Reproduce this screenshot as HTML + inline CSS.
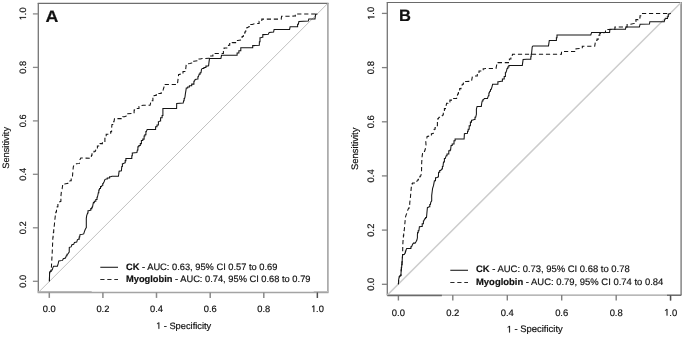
<!DOCTYPE html>
<html><head><meta charset="utf-8"><style>
html,body{margin:0;padding:0;background:#fff;}
svg{display:block;filter:grayscale(1);text-rendering:geometricPrecision;}
text{fill:#111;stroke:#111;stroke-width:0.18px;} .g1{fill:#111;stroke:#111;stroke-width:40;}
</style></head><body>
<svg width="685" height="337" viewBox="0 0 685 337" style="font-family:'Liberation Sans',sans-serif">
<rect width="685" height="337" fill="#fff"/>
<line x1="37.699999999999996" y1="3.3" x2="328.5" y2="3.3" stroke="#6e6e6e" stroke-width="1.2"/>
<line x1="38.3" y1="3.3" x2="38.3" y2="292.5" stroke="#747474" stroke-width="1.3"/>
<line x1="37.699999999999996" y1="292.5" x2="328.5" y2="292.5" stroke="#a4a4a4" stroke-width="1.4"/>
<line x1="327.9" y1="3.3" x2="327.9" y2="292.5" stroke="#a4a4a4" stroke-width="1.6"/>
<line x1="38.3" y1="292.5" x2="327.9" y2="3.3" stroke="#b0b0b0" stroke-width="0.8"/>
<line x1="32.9" y1="281.3" x2="38.3" y2="281.3" stroke="#8a8a8a" stroke-width="1.3"/>
<line x1="49.3" y1="292.5" x2="49.3" y2="297.9" stroke="#8a8a8a" stroke-width="1.5"/>
<text transform="translate(26.0,281.3) rotate(-90)" text-anchor="middle" font-size="9.3">0.0</text>
<text x="49.3" y="312.0" text-anchor="middle" font-size="9.3">0.0</text>
<line x1="32.9" y1="227.8" x2="38.3" y2="227.8" stroke="#8a8a8a" stroke-width="1.3"/>
<line x1="102.9" y1="292.5" x2="102.9" y2="297.9" stroke="#8a8a8a" stroke-width="1.5"/>
<text transform="translate(26.0,227.8) rotate(-90)" text-anchor="middle" font-size="9.3">0.2</text>
<text x="102.9" y="312.0" text-anchor="middle" font-size="9.3">0.2</text>
<line x1="32.9" y1="174.3" x2="38.3" y2="174.3" stroke="#8a8a8a" stroke-width="1.3"/>
<line x1="156.5" y1="292.5" x2="156.5" y2="297.9" stroke="#8a8a8a" stroke-width="1.5"/>
<text transform="translate(26.0,174.3) rotate(-90)" text-anchor="middle" font-size="9.3">0.4</text>
<text x="156.5" y="312.0" text-anchor="middle" font-size="9.3">0.4</text>
<line x1="32.9" y1="120.9" x2="38.3" y2="120.9" stroke="#8a8a8a" stroke-width="1.3"/>
<line x1="210.2" y1="292.5" x2="210.2" y2="297.9" stroke="#8a8a8a" stroke-width="1.5"/>
<text transform="translate(26.0,120.9) rotate(-90)" text-anchor="middle" font-size="9.3">0.6</text>
<text x="210.2" y="312.0" text-anchor="middle" font-size="9.3">0.6</text>
<line x1="32.9" y1="67.4" x2="38.3" y2="67.4" stroke="#8a8a8a" stroke-width="1.3"/>
<line x1="263.8" y1="292.5" x2="263.8" y2="297.9" stroke="#8a8a8a" stroke-width="1.5"/>
<text transform="translate(26.0,67.4) rotate(-90)" text-anchor="middle" font-size="9.3">0.8</text>
<text x="263.8" y="312.0" text-anchor="middle" font-size="9.3">0.8</text>
<line x1="32.9" y1="13.9" x2="38.3" y2="13.9" stroke="#8a8a8a" stroke-width="1.3"/>
<line x1="317.4" y1="292.5" x2="317.4" y2="297.9" stroke="#8a8a8a" stroke-width="1.5"/>
<g transform="translate(26.0,13.9) rotate(-90)"><path class="g1" d="M555 0V1237L237 1010V1180L570 1409H736V0Z" transform="translate(-6.46,0.00) scale(0.004541,-0.004541)"/><text x="-1.29" y="0.00" font-size="9.3">.0</text></g>
<path class="g1" d="M555 0V1237L237 1010V1180L570 1409H736V0Z" transform="translate(310.94,312.00) scale(0.004541,-0.004541)"/><text x="316.11" y="312.00" font-size="9.3">.0</text>
<text transform="translate(9.4,147.9) rotate(-90)" text-anchor="middle" font-size="9.3">Sensitivity</text>
<path class="g1" d="M555 0V1237L237 1010V1180L570 1409H736V0Z" transform="translate(155.95,328.80) scale(0.004541,-0.004541)"/><text x="163.71" y="328.8" font-size="9.3">- Specificity</text>
<text transform="translate(45.6,21.7) scale(1.08,1)" font-size="16.5" font-weight="bold">A</text>
<polyline points="49.4,281.3 49.6,272.8 50.2,271.4 51.2,271.4 51.2,269.9 52.2,269.9 52.9,267.6 53.6,266.2 57.4,266.2 58.1,263.9 58.8,261.0 62.5,260.4 63.3,258.7 65.5,258.0 66.3,255.8 67.0,255.8 67.0,254.3 67.7,254.3 68.5,253.0 69.2,252.0 69.3,247.3 71.1,246.9 71.9,244.7 73.7,244.3 74.5,242.4 76.7,242.1 77.4,239.8 78.6,239.1 79.2,239.1 79.2,236.9 79.7,236.9 80.0,234.6 82.3,234.3 83.7,233.9 84.5,231.3 85.2,229.5 86.0,228.0 86.3,227.7 86.3,218.4 86.7,215.7 87.6,213.0 88.0,213.0 88.0,210.8 88.5,210.8 90.3,210.3 90.8,210.3 90.8,208.6 91.2,208.6 91.8,208.6 91.8,207.2 92.5,207.2 93.0,204.4 93.4,202.6 94.3,202.6 94.3,201.3 95.2,201.3 95.8,201.3 95.8,199.5 96.5,199.5 97.0,199.5 97.0,197.3 97.4,197.3 97.9,195.0 98.3,192.8 98.8,192.8 98.8,190.1 99.2,190.1 99.6,188.4 100.5,188.4 100.5,186.6 101.4,186.6 102.3,185.2 102.8,185.2 102.8,183.5 103.2,183.5 104.1,181.7 104.9,179.6 106.2,178.9 107.3,178.9 107.3,178.0 108.4,178.0 109.6,178.0 109.6,176.7 110.7,176.7 112.0,176.3 118.4,176.2 118.7,174.4 119.1,171.3 121.4,170.8 121.8,166.4 122.4,166.4 122.4,163.7 123.1,163.7 124.9,162.8 125.2,162.8 125.2,160.6 125.9,160.6 125.9,158.4 126.3,158.4 131.6,158.4 131.8,158.4 131.8,155.7 132.3,155.7 132.3,153.0 132.5,153.0 136.9,152.6 137.4,150.0 137.9,150.0 137.9,146.7 138.3,146.7 138.9,146.7 138.9,145.4 139.6,145.4 140.3,145.4 140.3,143.6 141.0,143.6 141.4,143.6 141.4,140.5 141.9,140.5 142.8,140.5 142.8,139.1 143.6,139.1 144.1,139.1 144.1,136.0 144.5,136.0 144.9,136.0 144.9,134.7 145.4,134.7 145.9,134.7 145.9,131.6 146.3,131.6 147.2,129.4 155.2,129.4 155.6,129.4 155.6,126.7 156.1,126.7 157.0,126.7 157.0,124.9 157.9,124.9 158.4,124.9 158.4,121.8 158.8,121.8 160.0,120.9 160.6,120.9 160.6,117.8 161.2,117.8 162.1,117.8 162.1,115.5 162.9,115.5 162.9,108.5 176.6,108.5 176.7,103.5 183.2,103.0 183.6,100.8 184.1,100.8 184.1,98.6 184.5,98.6 185.0,96.8 185.4,93.7 185.9,90.6 186.3,87.9 187.7,87.9 187.7,87.0 189.0,87.0 189.4,87.0 189.4,85.7 189.9,85.7 191.7,85.7 191.7,84.1 193.5,84.1 193.9,84.1 193.9,81.3 194.4,81.3 195.2,79.5 197.5,79.0 197.9,79.0 197.9,76.8 198.4,76.8 199.2,74.1 200.1,74.1 200.1,72.8 201.0,72.8 201.5,69.2 202.4,68.4 203.9,68.4 203.9,67.5 205.5,67.5 205.9,67.5 205.9,66.1 206.4,66.1 208.6,65.7 209.0,62.1 209.5,58.6 220.9,58.5 221.5,55.3 236.4,55.3 237.1,55.3 237.1,53.0 237.8,53.0 238.9,53.0 238.9,50.8 240.1,50.8 240.8,50.8 240.8,47.8 241.5,47.8 251.9,47.8 252.7,47.8 252.7,45.6 253.4,45.6 259.3,45.3 259.4,41.7 260.0,41.7 260.0,37.7 260.7,37.7 262.1,37.3 262.8,37.3 262.8,34.6 263.4,34.6 268.3,34.3 269.2,32.4 273.6,32.0 274.1,29.4 289.6,29.4 290.1,26.8 296.9,26.8 297.6,26.8 297.6,24.2 298.4,24.2 298.9,21.4 308.3,21.1 308.8,19.0 315.0,19.0 315.6,14.3 317.4,13.9" fill="none" stroke="#141414" stroke-width="1.05"/>
<polyline points="49.4,281.3 49.6,272.8 50.5,271.0 51.4,267.5 51.7,261.7 52.2,252.8 52.6,243.9 52.9,237.2 53.1,237.2 53.1,234.7 53.4,234.7 53.4,232.2 53.7,232.2 53.7,229.7 53.9,229.7 54.6,222.3 55.4,214.8 55.8,214.8 55.8,211.9 56.5,211.9 56.5,208.9 56.9,208.9 57.2,208.9 57.2,206.7 57.9,206.7 57.9,204.4 58.2,204.4 58.7,202.2 60.9,201.3 60.9,196.4 61.4,191.5 62.2,188.4 62.7,184.8 63.6,184.8 63.6,183.9 64.5,183.9 67.1,183.5 67.8,183.5 67.8,181.7 68.5,181.7 70.3,180.8 71.2,180.8 71.2,179.0 72.0,179.0 72.4,177.6 72.8,172.3 73.3,166.9 74.1,164.7 76.4,163.8 79.5,163.4 79.9,159.8 80.8,158.0 91.1,158.3 91.5,155.3 92.0,155.3 92.0,152.7 92.4,152.7 94.0,152.7 94.0,151.3 95.5,151.3 95.9,149.0 97.4,149.0 97.4,146.0 98.9,146.0 100.1,146.0 100.1,143.6 101.3,143.6 102.4,143.6 102.4,141.4 103.6,141.4 104.9,141.4 104.9,138.3 106.2,138.3 106.2,134.2 109.8,134.2 110.7,134.2 110.7,131.6 111.6,131.6 111.6,128.0 112.0,124.5 113.0,124.5 113.0,121.7 114.0,121.7 114.5,118.6 121.2,118.6 122.8,118.6 122.8,116.8 124.3,116.8 126.5,115.9 127.0,115.9 127.0,113.7 127.4,113.7 133.6,113.3 134.1,113.3 134.1,110.1 134.5,110.1 135.0,108.4 138.1,108.4 139.0,108.4 139.0,106.6 139.9,106.6 140.8,105.7 143.4,105.2 150.1,105.2 150.7,102.6 151.6,102.6 151.6,100.8 152.5,100.8 152.9,100.8 152.9,97.3 153.4,97.3 154.1,97.3 154.1,95.5 154.7,95.5 156.2,95.5 156.2,94.6 157.8,94.6 158.9,94.6 158.9,93.5 161.2,93.5 161.2,92.4 162.3,92.4 163.2,89.7 164.0,87.0 165.2,87.0 165.2,84.4 166.3,84.4 177.4,84.4 177.8,81.2 178.3,77.2 178.6,74.5 180.1,74.5 180.1,73.0 183.0,73.0 183.0,71.5 184.5,71.5 185.0,71.5 185.0,70.5 185.5,70.5 185.9,67.5 186.3,63.9 189.9,63.5 191.7,63.0 192.8,63.0 192.8,61.2 193.9,61.2 197.9,60.8 199.0,60.8 199.0,59.0 200.1,59.0 202.4,58.6 208.9,58.2 210.0,58.2 210.0,56.0 211.1,56.0 212.9,56.0 212.9,53.5 214.8,53.5 223.0,53.5 223.4,53.5 223.4,50.8 224.1,50.8 224.1,48.0 224.5,48.0 228.1,48.0 228.5,45.3 229.7,45.3 229.7,43.6 230.8,43.6 232.2,43.6 232.2,42.6 233.6,42.6 235.6,42.6 235.6,40.4 237.6,40.4 241.6,39.9 242.1,39.9 242.1,36.4 242.5,36.4 243.3,36.4 243.3,34.1 244.8,34.1 244.8,31.9 245.6,31.9 246.0,30.6 246.9,30.6 246.9,27.5 247.8,27.5 249.1,26.6 250.7,26.6 250.7,24.4 252.3,24.4 253.6,23.9 257.6,23.5 259.1,23.5 259.1,21.2 260.7,21.2 261.8,21.2 261.8,19.1 262.9,19.1 281.2,19.1 281.6,16.3 294.8,16.1 295.3,16.1 295.3,13.9 295.8,13.9 317.4,13.9" fill="none" stroke="#141414" stroke-width="1.05" stroke-dasharray="4.2 2.8"/>
<line x1="100.3" y1="267.3" x2="118" y2="267.3" stroke="#2a2a2a" stroke-width="1.15"/>
<line x1="100.3" y1="279.5" x2="118" y2="279.5" stroke="#2a2a2a" stroke-width="1.15" stroke-dasharray="4.2 2.8"/>
<text x="126.0" y="269.8" font-size="9.3" xml:space="preserve"><tspan font-weight="bold">CK</tspan> - AUC: 0.63, 95% CI 0.57 to 0.69</text>
<text x="126.0" y="281.8" font-size="9.3" xml:space="preserve"><tspan font-weight="bold">Myoglobin</tspan> - AUC: 0.74, 95% CI 0.68 to 0.79</text><line x1="38.3" y1="291.5" x2="91.7" y2="291.5" stroke="#b8b8b8" stroke-width="1"/><line x1="313.7" y1="291.5" x2="327.9" y2="291.5" stroke="#c0c0c0" stroke-width="1"/><line x1="317.4" y1="292.5" x2="317.4" y2="297.9" stroke="#505050" stroke-width="1.2"/>
<line x1="386.7" y1="2.5" x2="681.7" y2="2.5" stroke="#6a6a6a" stroke-width="1.2"/>
<line x1="387.3" y1="2.5" x2="387.3" y2="295.1" stroke="#747474" stroke-width="1.3"/>
<line x1="386.7" y1="295.1" x2="681.7" y2="295.1" stroke="#a0a0a0" stroke-width="1.3"/>
<line x1="681.1" y1="2.5" x2="681.1" y2="295.1" stroke="#7c7c7c" stroke-width="1.4"/>
<line x1="387.3" y1="295.1" x2="681.1" y2="2.5" stroke="#cdcdcd" stroke-width="1.5"/>
<line x1="381.9" y1="284.3" x2="387.3" y2="284.3" stroke="#808080" stroke-width="1.3"/>
<line x1="398.4" y1="295.1" x2="398.4" y2="300.5" stroke="#808080" stroke-width="1.4"/>
<text transform="translate(374.4,284.3) rotate(-90)" text-anchor="middle" font-size="9.45">0.0</text>
<text x="398.4" y="315.6" text-anchor="middle" font-size="9.45">0.0</text>
<line x1="381.9" y1="230.1" x2="387.3" y2="230.1" stroke="#808080" stroke-width="1.3"/>
<line x1="452.8" y1="295.1" x2="452.8" y2="300.5" stroke="#808080" stroke-width="1.4"/>
<text transform="translate(374.4,230.1) rotate(-90)" text-anchor="middle" font-size="9.45">0.2</text>
<text x="452.8" y="315.6" text-anchor="middle" font-size="9.45">0.2</text>
<line x1="381.9" y1="175.9" x2="387.3" y2="175.9" stroke="#808080" stroke-width="1.3"/>
<line x1="507.3" y1="295.1" x2="507.3" y2="300.5" stroke="#808080" stroke-width="1.4"/>
<text transform="translate(374.4,175.9) rotate(-90)" text-anchor="middle" font-size="9.45">0.4</text>
<text x="507.3" y="315.6" text-anchor="middle" font-size="9.45">0.4</text>
<line x1="381.9" y1="121.8" x2="387.3" y2="121.8" stroke="#808080" stroke-width="1.3"/>
<line x1="561.7" y1="295.1" x2="561.7" y2="300.5" stroke="#808080" stroke-width="1.4"/>
<text transform="translate(374.4,121.8) rotate(-90)" text-anchor="middle" font-size="9.45">0.6</text>
<text x="561.7" y="315.6" text-anchor="middle" font-size="9.45">0.6</text>
<line x1="381.9" y1="67.6" x2="387.3" y2="67.6" stroke="#808080" stroke-width="1.3"/>
<line x1="616.2" y1="295.1" x2="616.2" y2="300.5" stroke="#808080" stroke-width="1.4"/>
<text transform="translate(374.4,67.6) rotate(-90)" text-anchor="middle" font-size="9.45">0.8</text>
<text x="616.2" y="315.6" text-anchor="middle" font-size="9.45">0.8</text>
<line x1="381.9" y1="13.4" x2="387.3" y2="13.4" stroke="#808080" stroke-width="1.3"/>
<line x1="670.6" y1="295.1" x2="670.6" y2="300.5" stroke="#808080" stroke-width="1.4"/>
<g transform="translate(374.4,13.4) rotate(-90)"><path class="g1" d="M555 0V1237L237 1010V1180L570 1409H736V0Z" transform="translate(-6.57,0.00) scale(0.004614,-0.004614)"/><text x="-1.31" y="0.00" font-size="9.45">.0</text></g>
<path class="g1" d="M555 0V1237L237 1010V1180L570 1409H736V0Z" transform="translate(664.03,315.60) scale(0.004614,-0.004614)"/><text x="669.29" y="315.60" font-size="9.45">.0</text>
<text transform="translate(357.8,148.8) rotate(-90)" text-anchor="middle" font-size="9.45">Sensitivity</text>
<path class="g1" d="M555 0V1237L237 1010V1180L570 1409H736V0Z" transform="translate(506.60,332.40) scale(0.004614,-0.004614)"/><text x="514.48" y="332.4" font-size="9.45">- Specificity</text>
<text transform="translate(399.0,20.9) scale(1.0,1)" font-size="16.5" font-weight="bold">B</text>
<polyline points="398.4,284.3 398.7,279.3 399.4,276.3 400.9,275.6 401.2,269.7 401.4,269.7 401.4,267.2 401.7,267.2 401.7,264.8 402.0,264.8 402.0,262.3 402.1,262.3 402.4,256.9 402.7,254.7 404.5,254.3 404.9,252.9 405.4,252.9 405.4,251.1 405.8,251.1 406.2,249.4 406.7,248.5 410.2,248.5 410.9,248.5 410.9,246.7 411.6,246.7 412.5,244.5 413.4,243.1 415.1,243.1 416.0,241.8 416.9,240.0 417.4,237.8 417.4,234.7 417.6,232.6 418.2,232.6 418.2,230.8 418.9,230.8 419.4,226.8 421.6,226.4 422.2,226.4 422.2,223.7 422.9,223.7 423.4,223.7 423.4,221.0 423.8,221.0 424.7,218.8 425.6,218.8 425.6,217.5 426.5,217.5 426.9,213.0 427.4,207.7 429.2,206.8 429.8,206.8 429.8,204.4 430.4,204.4 430.8,202.2 431.7,200.8 431.7,195.5 432.2,191.5 432.6,188.4 433.5,185.7 434.4,180.8 435.5,180.8 435.5,177.7 436.6,177.7 438.4,176.8 438.6,172.2 439.7,172.2 439.7,170.4 440.8,170.4 441.7,169.0 442.4,169.0 442.4,166.4 443.0,166.4 443.5,161.9 444.4,161.9 444.4,158.4 445.3,158.4 446.2,155.7 447.0,155.7 447.0,153.9 447.9,153.9 448.8,153.9 448.8,150.8 449.7,150.8 450.1,150.8 450.1,149.9 450.6,149.9 451.1,145.5 452.2,145.5 452.2,144.0 453.4,144.0 454.0,144.0 454.0,140.8 454.7,140.8 455.1,140.8 455.1,139.0 455.6,139.0 464.1,139.0 464.4,133.7 467.2,133.3 467.5,133.3 467.5,131.2 468.2,131.2 468.2,129.2 468.5,129.2 469.2,129.2 469.2,125.7 469.9,125.7 470.4,125.7 470.4,122.1 470.8,122.1 471.5,122.1 471.5,120.3 472.1,120.3 474.3,119.5 475.0,119.5 475.0,117.2 475.7,117.2 476.4,114.3 476.4,109.0 477.1,106.4 481.3,106.4 481.8,102.8 482.2,101.0 482.9,101.0 482.9,99.7 483.5,99.7 484.4,98.4 487.5,98.4 488.4,95.7 488.9,95.7 488.9,93.0 489.3,93.0 489.8,91.2 490.5,91.2 490.5,89.5 491.1,89.5 492.0,86.8 492.6,84.3 497.1,84.3 497.9,84.3 497.9,81.7 498.6,81.7 501.3,81.3 502.4,81.3 502.4,79.0 503.5,79.0 504.2,79.0 504.2,76.4 504.9,76.4 505.4,76.4 505.4,72.8 505.8,72.8 506.6,70.6 507.1,68.4 507.8,68.4 507.8,67.0 508.4,67.0 508.9,67.0 508.9,65.5 509.3,65.5 522.3,65.4 523.1,59.6 530.5,59.1 530.8,59.1 530.8,56.7 531.2,56.7 531.2,54.3 531.5,54.3 532.2,46.9 533.0,45.9 548.5,45.9 549.3,40.5 556.0,40.5 556.4,40.5 556.4,37.8 557.0,37.8 557.0,35.0 557.4,35.0 590.8,35.0 591.6,32.4 609.6,32.4 609.9,29.3 625.5,29.2 625.9,26.9 639.4,26.9 640.1,24.2 649.5,24.0 649.8,21.7 664.2,21.7 664.8,19.4 665.8,18.5 667.5,18.5 667.8,16.5 668.3,16.5 668.3,13.9 668.8,13.9 670.6,13.4" fill="none" stroke="#141414" stroke-width="1.05"/>
<polyline points="398.4,284.3 398.7,279.3 399.4,276.3 400.9,275.6 401.2,269.7 401.4,269.7 401.4,267.2 401.7,267.2 401.7,264.8 402.0,264.8 402.0,262.3 402.1,262.3 402.6,254.8 402.8,245.0 403.2,238.0 403.4,238.0 403.4,235.6 403.7,235.6 403.7,233.2 404.0,233.2 404.0,230.8 404.2,230.8 404.7,225.5 405.1,221.0 405.6,216.6 406.5,213.9 407.4,212.1 407.8,209.9 408.7,208.1 409.1,208.1 409.1,205.9 409.6,205.9 409.8,202.4 410.3,199.0 410.8,192.8 411.2,188.4 411.7,183.9 412.6,183.9 412.6,183.0 413.5,183.0 415.1,183.0 415.1,182.1 416.6,182.1 417.5,179.9 418.4,179.9 418.4,177.7 419.2,177.7 419.9,177.7 419.9,176.3 420.6,176.3 421.5,173.2 421.7,162.8 422.1,156.6 422.6,153.0 424.4,153.0 424.4,151.7 425.2,149.5 426.0,145.0 425.8,141.7 426.7,139.5 427.1,136.4 430.7,135.9 431.4,135.9 431.4,133.7 432.0,133.7 433.4,133.3 434.2,129.2 435.1,129.2 435.1,127.5 436.0,127.5 436.7,127.5 436.7,125.7 437.4,125.7 437.4,122.1 437.9,122.1 437.9,118.6 438.3,118.6 439.1,117.2 440.5,117.2 440.5,116.3 441.8,116.3 442.7,115.0 443.3,115.0 443.3,111.7 443.9,111.7 444.4,111.7 444.4,108.6 444.8,108.6 445.5,108.6 445.5,105.5 446.1,105.5 446.6,103.3 447.9,103.3 447.9,101.9 449.2,101.9 449.9,101.9 449.9,100.1 450.6,100.1 451.5,100.1 451.5,98.4 452.4,98.4 455.9,98.4 456.6,98.4 456.6,95.7 457.3,95.7 457.7,93.9 458.4,93.9 458.4,91.2 459.0,91.2 459.7,91.2 459.7,88.6 460.4,88.6 461.0,88.6 461.0,86.8 461.7,86.8 462.3,84.3 463.4,84.3 463.4,82.9 465.5,82.9 465.5,81.5 466.6,81.5 471.5,81.3 472.4,76.4 476.4,75.9 477.3,75.9 477.3,73.5 479.0,73.5 479.0,71.0 479.9,71.0 480.8,71.0 480.8,69.7 481.7,69.7 483.2,69.7 483.2,68.8 484.8,68.8 485.3,68.4 496.0,68.4 496.9,63.9 497.8,63.9 497.8,62.6 498.6,62.6 508.9,62.6 509.4,62.6 509.4,59.0 509.8,59.0 510.9,59.0 510.9,56.3 512.0,56.3 512.5,54.3 560.4,54.3 561.5,54.3 561.5,51.4 562.6,51.4 575.3,51.4 576.0,51.4 576.0,48.8 576.7,48.8 581.2,48.4 582.3,48.4 582.3,46.2 583.4,46.2 594.7,46.3 595.6,40.5 597.0,40.5 597.0,39.1 598.3,39.1 598.7,35.3 599.8,35.3 599.8,33.5 600.8,33.5 601.3,32.7 605.4,32.5 605.6,29.5 614.2,29.5 614.9,29.5 614.9,26.9 615.5,26.9 626.0,26.9 627.1,26.9 627.1,24.6 628.2,24.6 630.5,24.2 634.4,23.4 634.7,21.5 635.9,21.5 635.9,19.6 637.1,19.6 638.0,19.6 638.0,18.0 639.0,18.0 640.0,18.0 640.0,15.7 640.9,15.7 641.3,13.4 670.6,13.4" fill="none" stroke="#141414" stroke-width="1.05" stroke-dasharray="4.2 2.8"/>
<line x1="450.3" y1="270.3" x2="468" y2="270.3" stroke="#2a2a2a" stroke-width="1.15"/>
<line x1="450.3" y1="282.5" x2="468" y2="282.5" stroke="#2a2a2a" stroke-width="1.15" stroke-dasharray="4.2 2.8"/>
<text x="476.0" y="272.4" font-size="9.45" xml:space="preserve"><tspan font-weight="bold">CK</tspan> - AUC: 0.73, 95% CI 0.68 to 0.78</text>
<text x="476.0" y="284.7" font-size="9.45" xml:space="preserve"><tspan font-weight="bold">Myoglobin</tspan> - AUC: 0.79, 95% CI 0.74 to 0.84</text><line x1="387.3" y1="295.5" x2="441.9" y2="295.5" stroke="#6a6a6a" stroke-width="1.3"/><line x1="667" y1="295.3" x2="681.1" y2="295.3" stroke="#6a6a6a" stroke-width="1.3"/><line x1="670.5" y1="295.3" x2="670.5" y2="300.5" stroke="#505050" stroke-width="1.3"/>
</svg>
</body></html>
